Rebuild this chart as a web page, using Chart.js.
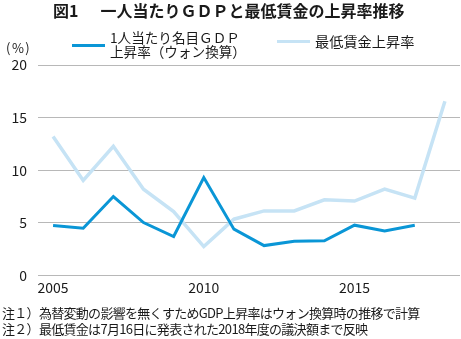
<!DOCTYPE html>
<html>
<head>
<meta charset="utf-8">
<script src="https://cdn.jsdelivr.net/npm/chart.js@4.4.1/dist/chart.umd.min.js"></script>
<style>
  html, body { margin: 0; padding: 0; background: #fff; }
  #wrap { position: relative; width: 461px; height: 339px; overflow: hidden;
          font-family: "Noto Sans CJK JP", "Noto Sans", sans-serif; color: #1a1a1a; }
  #wrap canvas { position: absolute; left: 0; top: 0; }
  .t { position: absolute; white-space: nowrap; }
  .sw { position: absolute; }
  .note { font-size: 13px; line-height: 16px; letter-spacing: -0.7px; }
</style>
</head>
<body>
<div id="wrap">
  <canvas id="chart" width="461" height="339"></canvas>
  <div class="t" id="title" style="left:53px; top:0px; font-size:16px; line-height:20px; font-weight:bold;">
    <span>図1</span><span style="margin-left:22px;">一人当たりＧＤＰと最低賃金の上昇率推移</span>
  </div>
  <div class="t" style="left:6px; top:40px; font-size:13px; line-height:16px; letter-spacing:1.5px;">(%)</div>
  <div id="legend"></div>
  <div class="t note" id="note1" style="left:2px; top:304.5px;"></div>
  <div class="t note" id="note2" style="left:2px; top:320.5px;"></div>
</div>
<script>
// Years on the horizontal axis
const years = ['2005','2006','2007','2008','2009','2010','2011','2012','2013','2014','2015','2016','2017','2018'];
// Nominal GDP per capita growth (won basis), %
const gdpGrowth = [4.74, 4.49, 7.5, 5.03, 3.7, 9.3, 4.4, 2.84, 3.25, 3.29, 4.78, 4.24, 4.78, null];
// Minimum wage growth, %
const minWageGrowth = [13.2, 9.03, 12.27, 8.2, 6.08, 2.75, 5.35, 6.14, 6.14, 7.19, 7.07, 8.2, 7.35, 16.55];
// Value axis ticks
const yTicks = [0, 5, 10, 15, 20];
// Years that carry a label
const labeledYears = ['2005', '2010', '2015'];
// Series names
const gdpName = ['1人当たり名目ＧＤＰ', '上昇率（ウォン換算）'];
const wageName = ['最低賃金上昇率'];
// Notes under the chart
const notes = [
  '注１）為替変動の影響を無くすためGDP上昇率はウォン換算時の推移で計算',
  '注２）最低賃金は7月16日に発表された2018年度の議決額まで反映'
];

const darkBlue = '#0a96d6';
const paleBlue = '#c6e3f5';
const gridGray = '#b8b8b8';
const fontFamily = '"Noto Sans CJK JP", "Noto Sans", sans-serif';

document.getElementById('note1').textContent = notes[0];
document.getElementById('note2').textContent = notes[1];

// Legend built from the series names
const legend = document.getElementById('legend');
function addSwatch(x, y, w, h, color) {
  const d = document.createElement('div');
  d.className = 'sw';
  d.style.cssText = `left:${x}px;top:${y}px;width:${w}px;height:${h}px;background:${color};`;
  legend.appendChild(d);
}
function addText(x, top, size, text) {
  const d = document.createElement('div');
  d.className = 't';
  d.style.cssText = `left:${x}px;top:${top}px;font-size:${size}px;line-height:16px;`;
  d.textContent = text;
  legend.appendChild(d);
}
addSwatch(72, 43.5, 33, 3, darkBlue);
addText(110, 28.5, 13.6, gdpName[0]);
addText(110, 43, 13.6, gdpName[1]);
addSwatch(277, 39.5, 33, 3, paleBlue);
addText(315, 33, 14.2, wageName[0]);

new Chart(document.getElementById('chart'), {
  type: 'line',
  data: {
    labels: years,
    datasets: [
      {
        label: gdpName.join(''),
        data: gdpGrowth,
        borderColor: darkBlue,
        borderWidth: 3,
        pointRadius: 0,
        tension: 0,
        fill: false,
        spanGaps: false
      },
      {
        label: wageName[0],
        data: minWageGrowth,
        borderColor: paleBlue,
        borderWidth: 3.5,
        pointRadius: 0,
        tension: 0,
        fill: false
      }
    ]
  },
  options: {
    responsive: false,
    animation: false,
    devicePixelRatio: 1,
    layout: { padding: { top: 65, bottom: 41.5, left: 0, right: 1 } },
    plugins: {
      legend: { display: false },
      title: { display: false },
      tooltip: { enabled: false }
    },
    scales: {
      x: {
        type: 'category',
        offset: true,
        grid: { display: false, drawTicks: false },
        border: { display: false },
        ticks: {
          autoSkip: false,
          maxRotation: 0,
          padding: 4,
          color: '#1a1a1a',
          font: { family: fontFamily, size: 14 },
          callback: function (value) {
            const lab = this.getLabelForValue(value);
            return labeledYears.includes(lab) ? lab : '';
          }
        },
        afterFit: s => { s.height = 22; }
      },
      y: {
        min: yTicks[0],
        max: yTicks[yTicks.length - 1],
        grid: { color: gridGray, lineWidth: 1, drawTicks: false },
        border: { display: false },
        ticks: {
          stepSize: 5,
          padding: 11,
          color: '#1a1a1a',
          font: { family: fontFamily, size: 14 }
        },
        afterBuildTicks: s => { s.ticks = yTicks.map(v => ({ value: v })); },
        afterFit: s => { s.width = 38; }
      }
    }
  }
});
</script>
</body>
</html>
